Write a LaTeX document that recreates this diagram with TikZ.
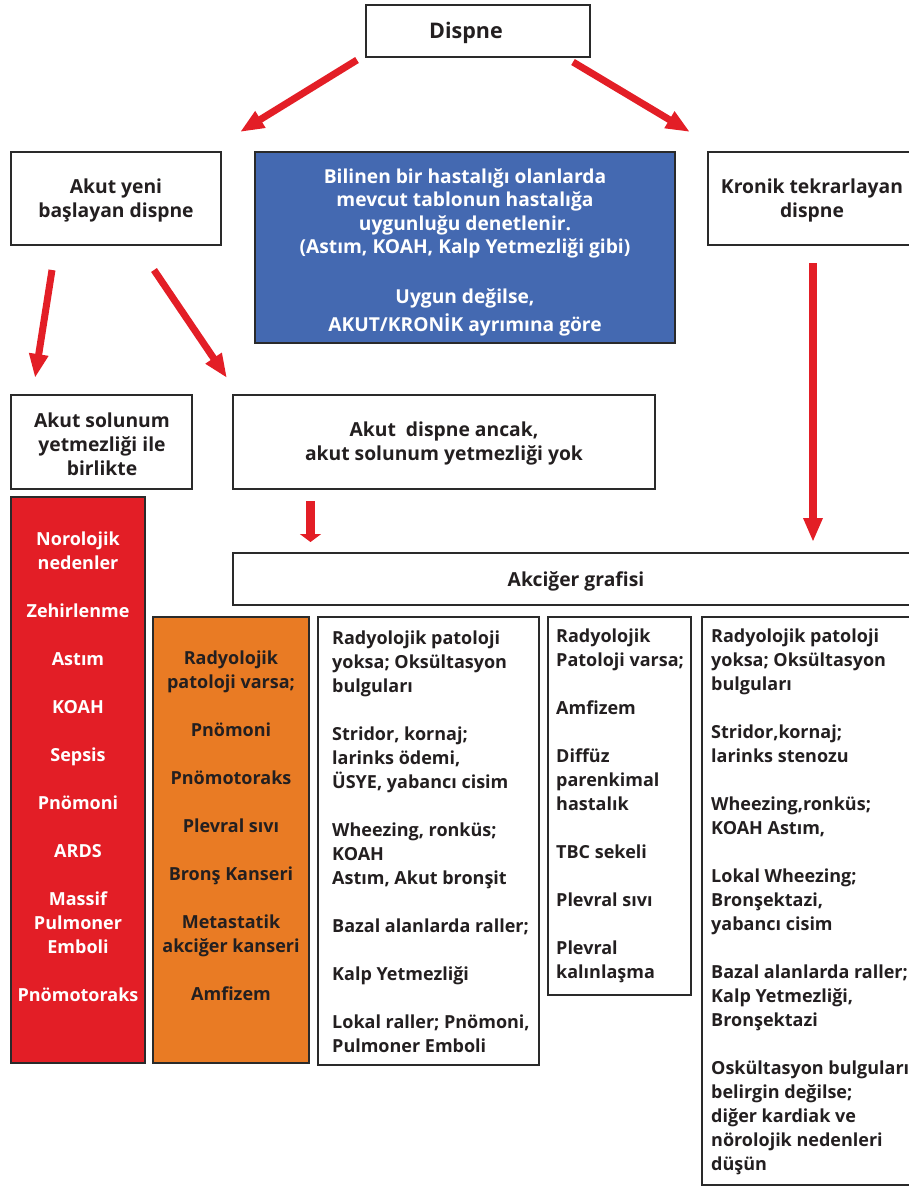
\documentclass[tikz,border=0pt]{standalone}
\usepackage{fontspec}
\setmainfont{Open Sans}
\usetikzlibrary{arrows.meta}
\definecolor{ink}{HTML}{231F20}
\definecolor{boxline}{HTML}{2A2A2A}
\definecolor{alarmred}{HTML}{E31E26}
\definecolor{warnorange}{HTML}{E97B24}
\definecolor{infoblue}{HTML}{4469B1}

\begin{document}
\begin{tikzpicture}[x=1pt,y=-1pt,
  frame/.style={draw=boxline,line width=2.4pt,inner sep=0pt,rectangle},
  txt/.style={inner sep=0pt,text=ink,font=\bfseries\fontsize{18}{24}\selectfont},
  head/.style={txt,font=\bfseries\fontsize{19.3}{24}\selectfont},
  wtxt/.style={txt,text=white},
  redarrow/.style={draw=alarmred,line width=7pt,
    -{Triangle[width=18pt,length=24pt]}},
]
\useasboundingbox (0,0) rectangle (909,1187);
\clip (0,0) rectangle (909,1187);

% ---- top level ----
\node[frame,minimum width=224pt,minimum height=52pt] (dispne) at (478,31) {};
\node[head,font=\bfseries\fontsize{21.5}{24}\selectfont] (dispneT) at (466,33) {Dispne};

\node[frame,minimum width=210pt,minimum height=93pt] (akutyeni) at (116,198.5) {};
\node[head,align=center] (akutyeniT) at (116,200) {Akut yeni\\başlayan dispne};

\node[frame,fill=infoblue,minimum width=420pt,minimum height=191pt] (known) at (465,247.5) {};
\node[head,text=white,align=center,font=\bfseries\fontsize{19.2}{23.4}\selectfont] (knownA) at (465,213.5) {Bilinen bir hastalığı olanlarda\\mevcut tablonun hastalığa\\uygunluğu denetlenir.\\(Astım, KOAH, Kalp Yetmezliği gibi)};
\node[head,text=white,align=center,font=\bfseries\fontsize{19.2}{28}\selectfont] (knownB) at (465,312) {Uygun değilse,\\AKUT/KRONİK ayrımına göre};

\node[frame,minimum width=208pt,minimum height=93pt] (kronik) at (812,198.5) {};
\node[head,align=center] (kronikT) at (812,200) {Kronik tekrarlayan\\dispne};

% ---- second level ----
\node[frame,minimum width=181pt,minimum height=94pt] (akutsol) at (101.5,442) {};
\node[head,align=center] (akutsolT) at (102,444) {Akut solunum\\yetmezliği ile\\birlikte};

\node[frame,minimum width=422pt,minimum height=94pt] (ancak) at (444,442) {};
\node[head,align=center] (ancakT) at (444,443) {Akut\ \ dispne ancak,\\akut solunum yetmezliği yok};

\node[frame,minimum width=686pt,minimum height=52pt] (grafi) at (576,579) {};
\node[head] (grafiT) at (576,581) {Akciğer grafisi};

% ---- columns ----
\node[frame,fill=alarmred,minimum width=134pt,minimum height=566pt] (redcol) at (78,780) {};
\node[wtxt,align=center] (redcolT) at (78,766.5) {Norolojik\\nedenler\\[24pt]Zehirlenme\\[24pt]Astım\\[24pt]KOAH\\[24pt]Sepsis\\[24pt]Pnömoni\\[24pt]ARDS\\[24pt]Massif\\Pulmoner\\Emboli\\[24pt]Pnömotoraks};

\node[frame,fill=warnorange,minimum width=156pt,minimum height=446pt] (orcol) at (231,840) {};
\node[txt,align=center] (orcolT) at (231,826) {Radyolojik\\patoloji varsa;\\[24pt]Pnömoni\\[24pt]Pnömotoraks\\[24pt]Plevral sıvı\\[24pt]Bronş Kanseri\\[24pt]Metastatik\\akciğer kanseri\\[24pt]Amfizem};

\node[frame,minimum width=221pt,minimum height=448pt] (auscA) at (428.5,841) {};
\node[txt,align=left,anchor=west] (auscAT) at (332,842) {Radyolojik patoloji\\yoksa; Oksültasyon\\bulguları\\[24pt]Stridor, kornaj;\\larinks ödemi,\\ÜSYE, yabancı cisim\\[24pt]Wheezing, ronküs;\\KOAH\\Astım, Akut bronşit\\[24pt]Bazal alanlarda raller;\\[24pt]Kalp Yetmezliği\\[24pt]Lokal raller; Pnömoni,\\Pulmoner Emboli};

\node[frame,minimum width=143pt,minimum height=378pt] (radB) at (619.5,806) {};
\node[txt,align=left,anchor=west] (radBT) at (556,806) {Radyolojik\\Patoloji varsa;\\[24pt]Amfizem\\[24pt]Diffüz\\parenkimal\\hastalık\\[24pt]TBC sekeli\\[24pt]Plevral sıvı\\[24pt]Plevral\\kalınlaşma};

\node[frame,minimum width=223pt,minimum height=568pt] (auscC) at (813.5,901) {};
\node[txt,align=left,anchor=west] (auscCT) at (711,902) {Radyolojik patoloji\\yoksa; Oksültasyon\\bulguları\\[24pt]Stridor,kornaj;\\larinks stenozu\\[24pt]Wheezing,ronküs;\\KOAH Astım,\\[24pt]Lokal Wheezing;\\Bronşektazi,\\yabancı cisim\\[24pt]Bazal alanlarda raller;\\Kalp Yetmezliği,\\Bronşektazi\\[24pt]Oskültasyon bulguları\\belirgin değilse;\\diğer kardiak ve\\nörolojik nedenleri\\düşün};

% ---- arrow end points ----
\coordinate (a1s) at (357,60);  \coordinate (a1e) at (240,132);
\coordinate (a2s) at (573,62);  \coordinate (a2e) at (690,132);
\coordinate (a3s) at (52,270);  \coordinate (a3e) at (35,378);
\coordinate (a4s) at (154,270); \coordinate (a4e) at (227,378);
\coordinate (a5s) at (310.5,501); \coordinate (a5e) at (310.5,542);
\coordinate (a6s) at (813,263); \coordinate (a6e) at (813,542);

\draw[redarrow] (a1s) -- (a1e);
\draw[redarrow] (a2s) -- (a2e);
\draw[redarrow] (a3s) -- (a3e);
\draw[redarrow] (a4s) -- (a4e);
\draw[redarrow,line width=9pt,-{Triangle[width=21pt,length=8pt]}] (a5s) -- (a5e);
\draw[redarrow,line width=8.5pt] (a6s) -- (a6e);
\end{tikzpicture}
\end{document}
